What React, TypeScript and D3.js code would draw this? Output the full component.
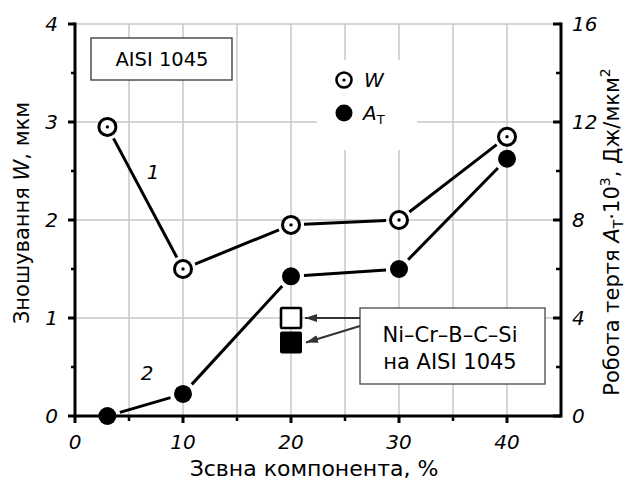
import React from "react";
import * as d3 from "d3";

// composition of shear component, %
const comp = [3, 10, 20, 30, 40];
// wear W, um
const wear = [2.95, 1.5, 1.95, 2.0, 2.85];
// friction work A_T * 10^3, J/um^2
const work = [0, 0.9, 5.7, 6.0, 10.5];
// Ni-Cr-B-C-Si coating points
const coatX = [20];
const coatWear = [1.0];
const coatWork = [3.0];

const xMajor = [0, 10, 20, 30, 40];
const xMinor = [5, 15, 25, 35];
const yLeftMajor = [0, 1, 2, 3, 4];
const yLeftMinor = [0.5, 1.5, 2.5, 3.5];
const yRightMajor = [0, 4, 8, 12, 16];
const yRightMinor = [2, 6, 10, 14];

const W = 630;
const H = 481;
const ff = "DejaVu Sans";

function trimmed(pts: [number, number][], gap: number) {
  const segs: [number, number, number, number][] = [];
  for (let i = 0; i < pts.length - 1; i++) {
    const [x1, y1] = pts[i];
    const [x2, y2] = pts[i + 1];
    const len = Math.hypot(x2 - x1, y2 - y1);
    const ux = (x2 - x1) / len;
    const uy = (y2 - y1) / len;
    segs.push([x1 + ux * gap, y1 + uy * gap, x2 - ux * gap, y2 - uy * gap]);
  }
  return segs;
}

export default function App() {
  const x = d3.scaleLinear().domain([0, 45]).range([75, 561]);
  const yL = d3.scaleLinear().domain([0, 4]).range([416, 24]);
  const yR = d3.scaleLinear().domain([0, 16]).range([416, 24]);

  const wearPts = comp.map((c, i) => [x(c), yL(wear[i])] as [number, number]);
  const workPts = comp.map((c, i) => [x(c), yR(work[i])] as [number, number]);

  const grid = "#c8c8c8";

  return (
    <svg width={W} height={H} style={{ position: "absolute", left: 0, top: 0, background: "#fff" }}>
      <defs>
        <marker
          id="arr"
          viewBox="0 0 12 8"
          refX="12"
          refY="4"
          markerWidth="12"
          markerHeight="8"
          markerUnits="userSpaceOnUse"
          orient="auto"
        >
          <path d="M0,0 L12,4 L0,8 Z" fill="#333" />
        </marker>
      </defs>

      {/* grid */}
      {[...xMinor, ...xMajor.slice(1)].map((v) => (
        <line key={"gx" + v} x1={x(v)} x2={x(v)} y1={yL(4)} y2={yL(0)} stroke={grid} strokeWidth={1.5} />
      ))}
      {yLeftMajor.slice(1).map((v) => (
        <line key={"gy" + v} x1={x(0)} x2={x(45)} y1={yL(v)} y2={yL(v)} stroke={grid} strokeWidth={1.5} />
      ))}

      {/* legend */}
      <rect x={317} y={60} width={100} height={90} fill="#fff" />
      <circle cx={344} cy={80} r={7.5} fill="#fff" stroke="#000" strokeWidth={2.6} />
      <circle cx={344} cy={80} r={1.6} fill="#000" />
      <text x={364} y={87} fontFamily={ff} fontSize={20} fontStyle="italic">W</text>
      <circle cx={344} cy={113} r={8.5} fill="#000" />
      <text x={363} y={120} fontFamily={ff} fontSize={20} fontStyle="italic">
        A<tspan fontStyle="normal" fontSize={13} dy={4}>Т</tspan>
      </text>

      {/* AISI box */}
      <rect x={91} y={38} width={141} height={42} fill="#fff" stroke="#333" strokeWidth={1.3} />
      <text x={162} y={66} fontFamily={ff} fontSize={19.5} textAnchor="middle">AISI 1045</text>

      {/* axes */}
      <line x1={x(0)} x2={x(0)} y1={yL(4) - 1.5} y2={yL(0) + 1.5} stroke="#000" strokeWidth={3} />
      <line x1={x(45)} x2={x(45)} y1={yL(4) - 1.5} y2={yL(0) + 1.5} stroke="#000" strokeWidth={3} />
      <line x1={x(0)} x2={x(45)} y1={yL(0)} y2={yL(0)} stroke="#000" strokeWidth={3} />

      {yLeftMajor.map((v) => (
        <g key={"ly" + v}>
          <line x1={x(0) - 7} x2={x(0)} y1={yL(v)} y2={yL(v)} stroke="#000" strokeWidth={3} />
          <text x={58} y={yL(v) + 7} fontFamily={ff} fontSize={20} fontStyle="italic" textAnchor="end">{v}</text>
        </g>
      ))}
      {yLeftMinor.map((v) => (
        <line key={"lym" + v} x1={x(0) - 4} x2={x(0)} y1={yL(v)} y2={yL(v)} stroke="#000" strokeWidth={2.5} />
      ))}
      {yRightMajor.map((v) => (
        <g key={"ry" + v}>
          <line x1={x(45) - 8} x2={x(45)} y1={yR(v)} y2={yR(v)} stroke="#000" strokeWidth={3} />
          <text x={572} y={yR(v) + 7} fontFamily={ff} fontSize={20} fontStyle="italic">{v}</text>
        </g>
      ))}
      {yRightMinor.map((v) => (
        <line key={"rym" + v} x1={x(45) - 5} x2={x(45)} y1={yR(v)} y2={yR(v)} stroke="#000" strokeWidth={2.5} />
      ))}
      {xMajor.map((v) => (
        <g key={"xt" + v}>
          <line x1={x(v)} x2={x(v)} y1={yL(0)} y2={yL(0) + 7} stroke="#000" strokeWidth={3} />
          <text x={x(v)} y={449} fontFamily={ff} fontSize={20} fontStyle="italic" textAnchor="middle">{v}</text>
        </g>
      ))}
      {xMinor.map((v) => (
        <line key={"xm" + v} x1={x(v)} x2={x(v)} y1={yL(0)} y2={yL(0) + 5} stroke="#000" strokeWidth={2.5} />
      ))}

      {/* series lines */}
      {trimmed(wearPts, 13).map((s, i) => (
        <line key={"wl" + i} x1={s[0]} y1={s[1]} x2={s[2]} y2={s[3]} stroke="#000" strokeWidth={3} />
      ))}
      {trimmed(workPts, 13).map((s, i) => (
        <line key={"al" + i} x1={s[0]} y1={s[1]} x2={s[2]} y2={s[3]} stroke="#000" strokeWidth={3} />
      ))}

      {/* markers */}
      {wearPts.map((p, i) => (
        <g key={"wm" + i}>
          <circle cx={p[0]} cy={p[1]} r={8.5} fill="#fff" stroke="#000" strokeWidth={3} />
          <circle cx={p[0]} cy={p[1]} r={1.7} fill="#000" />
        </g>
      ))}
      {workPts.map((p, i) => (
        <circle key={"am" + i} cx={p[0]} cy={p[1]} r={9} fill="#000" />
      ))}

      {/* coating points */}
      {coatX.map((c, i) => (
        <g key={"c" + i}>
          <rect x={x(c) - 10} y={yL(coatWear[i]) - 10} width={20} height={20} fill="#fff" stroke="#000" strokeWidth={2.6} rx={1} />
          <rect x={x(c) - 11} y={yR(coatWork[i]) - 11} width={22} height={22} fill="#000" rx={2} />
        </g>
      ))}

      {/* annotation */}
      <rect x={360} y={308} width={185} height={76} fill="#fff" stroke="#555" strokeWidth={1.4} />
      <text x={450} y={342} fontFamily={ff} fontSize={21} textAnchor="middle">Ni–Cr–B–C–Si</text>
      <text x={450} y={369} fontFamily={ff} fontSize={21} textAnchor="middle">на AISI 1045</text>
      <line x1={360} y1={318} x2={x(coatX[0]) + 14} y2={yL(coatWear[0])} stroke="#333" strokeWidth={2} markerEnd="url(#arr)" />
      <line x1={360} y1={326} x2={x(coatX[0]) + 15} y2={yR(coatWork[0])} stroke="#333" strokeWidth={2} markerEnd="url(#arr)" />

      {/* curve numbers */}
      <text x={153} y={179} fontFamily={ff} fontSize={20} fontStyle="italic" textAnchor="middle">1</text>
      <text x={147} y={380} fontFamily={ff} fontSize={20} fontStyle="italic" textAnchor="middle">2</text>

      {/* axis titles */}
      <text x={314} y={476} fontFamily={ff} fontSize={22} textAnchor="middle">Зсвна компонента, %</text>
      <text transform="translate(29,213) rotate(-90)" fontFamily={ff} fontSize={21} textAnchor="middle">
        Зношування <tspan fontStyle="italic">W</tspan>, мкм
      </text>
      <text transform="translate(619,232) rotate(-90)" fontFamily={ff} fontSize={21} textAnchor="middle">
        Робота тертя <tspan fontStyle="italic">A</tspan>
        <tspan fontSize={14} dy={4}>Т</tspan>
        <tspan dy={-4}>·10</tspan>
        <tspan fontSize={14} dy={-9}>3</tspan>
        <tspan dy={9}>, Дж/мкм</tspan>
        <tspan fontSize={14} dy={-9}>2</tspan>
      </text>
    </svg>
  );
}
